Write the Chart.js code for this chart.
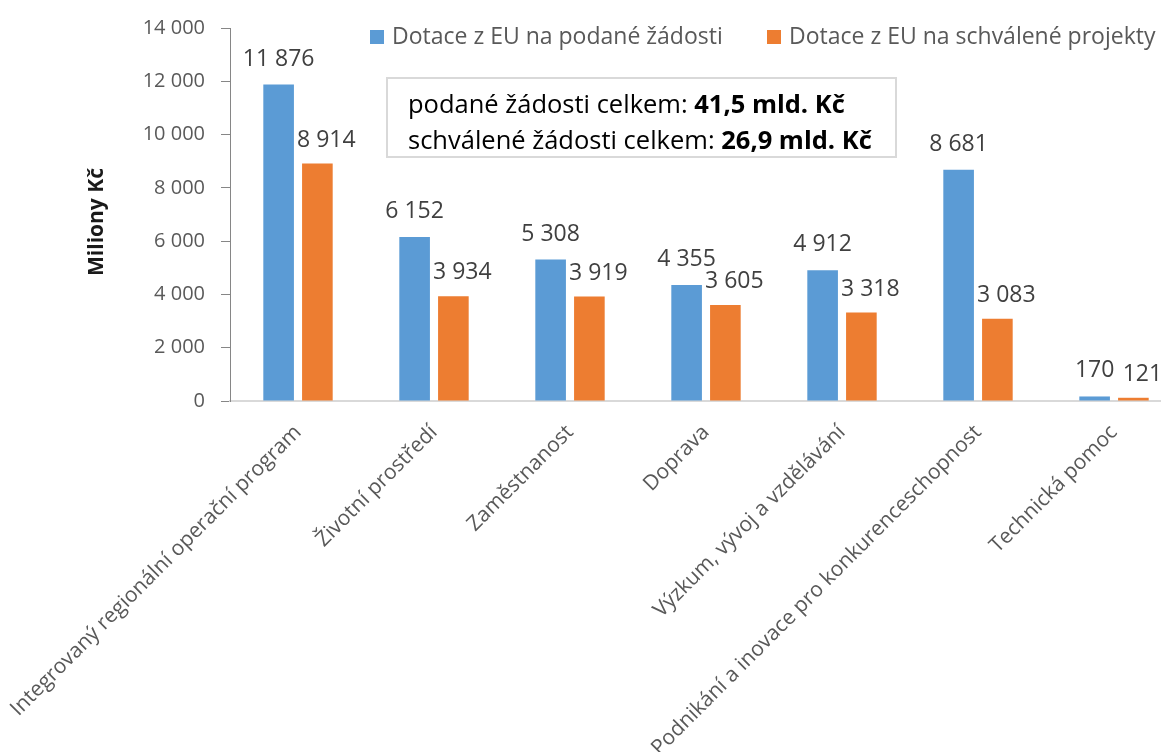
<!DOCTYPE html>
<html><head><meta charset="utf-8">
<script src="https://cdn.jsdelivr.net/npm/chart.js@4.4.1/dist/chart.umd.min.js"></script>
<style>
html,body{margin:0;padding:0;overflow:hidden;background:#fff;width:1161px;height:752px}
#wrap{position:absolute;left:0;top:0;width:1190px;height:752px}
canvas{display:block}
</style></head><body>
<div id="wrap"><canvas id="c" width="1190" height="752"></canvas></div>
<script>
// ---- data ----
const categories = [
  "Integrovaný regionální operační program",
  "Životní prostředí",
  "Zaměstnanost",
  "Doprava",
  "Výzkum, vývoj a vzdělávání",
  "Podnikání a inovace pro konkurenceschopnost",
  "Technická pomoc"
];
const seriesNames = ["Dotace z EU na podané žádosti", "Dotace z EU na schválené projekty"];
const podane = [11876, 6152, 5308, 4355, 4912, 8681, 170];
const schvalene = [8914, 3934, 3919, 3605, 3318, 3083, 121];
const yTickValues = [0, 2000, 4000, 6000, 8000, 10000, 12000, 14000];
const axisTitle = "Miliony Kč";
const summaryLines = [
  ["podané žádosti celkem: ", "41,5 mld. Kč"],
  ["schválené žádosti celkem: ", "26,9 mld. Kč"]
];
const seriesColors = ["#5B9BD5", "#ED7D31"];

// ---- helpers ----
const FONT = '"Open Sans", sans-serif';
const fmt = v => String(v).replace(/\B(?=(\d{3})+(?!\d))/g, " ");

const overlay = {
  id: "overlay",
  afterDatasetsDraw(chart) {
    const ctx = chart.ctx;
    ctx.save();
    // data labels
    ctx.font = `23px ${FONT}`;
    ctx.fillStyle = "#404040";
    ctx.textAlign = "center";
    ctx.textBaseline = "alphabetic";
    chart.data.datasets.forEach((ds, i) => {
      const meta = chart.getDatasetMeta(i);
      meta.data.forEach((bar, j) => {
        const dx = i === 0 ? 0 : 9;
        const gap = i === 0 ? 19 : 17;
        ctx.fillText(fmt(ds.data[j]), bar.x + dx, bar.y - gap);
      });
    });
    // y-axis title
    ctx.save();
    ctx.translate(97, 222);
    ctx.rotate(-Math.PI / 2);
    ctx.font = `bold 21px ${FONT}`;
    ctx.fillStyle = "#1a1a1a";
    ctx.textAlign = "center";
    ctx.textBaseline = "middle";
    ctx.fillText(axisTitle, 0, 0);
    ctx.restore();
    // legend
    ctx.font = `23px ${FONT}`;
    ctx.textAlign = "left";
    ctx.textBaseline = "middle";
    const legendX = [370, 767];
    chart.data.datasets.forEach((ds, i) => {
      ctx.fillStyle = ds.backgroundColor;
      ctx.fillRect(legendX[i], 30, 14, 14);
      ctx.fillStyle = "#595959";
      ctx.fillText(ds.label, legendX[i] + 22, 37);
    });
    // summary box
    ctx.strokeStyle = "#d9d9d9";
    ctx.lineWidth = 2;
    ctx.fillStyle = "#fff";
    ctx.fillRect(387, 78, 509, 79);
    ctx.strokeRect(387, 78, 509, 79);
    ctx.fillStyle = "#000";
    ctx.textBaseline = "alphabetic";
    const baselines = [113, 149];
    summaryLines.forEach((ln, k) => {
      ctx.font = `25.5px ${FONT}`;
      ctx.fillText(ln[0], 408, baselines[k]);
      const w = ctx.measureText(ln[0]).width;
      ctx.font = `bold 25.5px ${FONT}`;
      ctx.fillText(ln[1], 408 + w, baselines[k]);
    });
    ctx.restore();
  }
};

new Chart(document.getElementById("c"), {
  type: "bar",
  data: {
    labels: categories,
    datasets: [
      { label: seriesNames[0], data: podane, backgroundColor: seriesColors[0] },
      { label: seriesNames[1], data: schvalene, backgroundColor: seriesColors[1] }
    ]
  },
  options: {
    responsive: false,
    animation: false,
    devicePixelRatio: 1,
    categoryPercentage: 0.57,
    barPercentage: 0.79,
    layout: { padding: { top: 23, right: 8, left: 0, bottom: 0 } },
    plugins: { legend: { display: false }, tooltip: { enabled: false } },
    scales: {
      x: {
        grid: { display: false, drawTicks: false },
        border: { display: true, color: "#d9d9d9", width: 2 },
        ticks: {
          autoSkip: false, minRotation: 45, maxRotation: 45,
          color: "#595959", font: { family: FONT, size: 21 }, padding: 19
        },
        afterFit: s => { s.height = 351; s.paddingLeft = 0; s.paddingRight = 0; }
      },
      y: {
        min: 0, max: 14000,
        afterBuildTicks: s => { s.ticks = yTickValues.map(v => ({ value: v })); },
        grid: { drawOnChartArea: false, drawTicks: true, tickLength: 9, color: "#868686" },
        border: { display: true, color: "#868686", width: 1 },
        ticks: {
          color: "#595959", font: { family: FONT, size: 20 }, padding: 16,
          callback: v => fmt(v)
        },
        afterFit: s => { s.width = 230; }
      }
    }
  },
  plugins: [overlay]
});
</script>
</body></html>
